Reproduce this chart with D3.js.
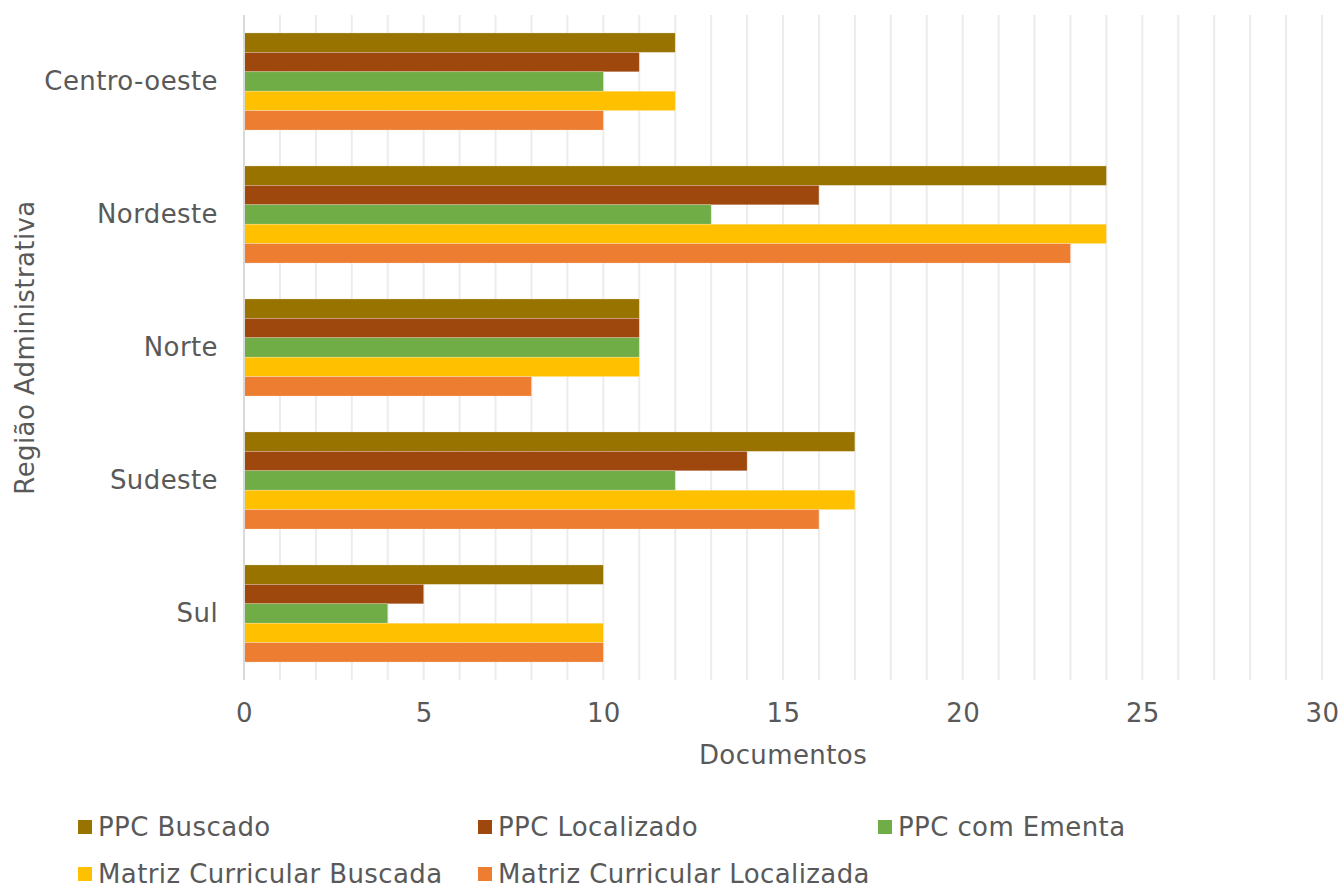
<!DOCTYPE html>
<html>
<head>
<meta charset="utf-8">
<script src="https://cdn.jsdelivr.net/npm/d3@7/dist/d3.min.js"></script>
<style>
  body { margin: 0; background: #fff; }
  text { font-family: "DejaVu Sans", Verdana, sans-serif; fill: #595959; letter-spacing: 0.4px; }
</style>
</head>
<body>
<svg id="chart" width="1342" height="886"></svg>
<script>
// data
var regions = ['Centro-oeste', 'Nordeste', 'Norte', 'Sudeste', 'Sul'];
var seriesNames = ['PPC Buscado', 'PPC Localizado', 'PPC com Ementa', 'Matriz Curricular Buscada', 'Matriz Curricular Localizada'];
var ppcBuscado = [12, 24, 11, 17, 10];
var ppcLocalizado = [11, 16, 11, 14, 5];
var ppcEmenta = [10, 13, 11, 12, 4];
var matrizBuscada = [12, 24, 11, 17, 10];
var matrizLocalizada = [10, 23, 8, 16, 10];
var xTicks = [0, 5, 10, 15, 20, 25, 30];

var colors = ['#997300', '#9e480e', '#70ad47', '#ffc000', '#ed7d31'];
var values = [ppcBuscado, ppcLocalizado, ppcEmenta, matrizBuscada, matrizLocalizada];

var svg = d3.select('#chart');
var plotLeft = 244, plotRight = 1322, plotTop = 15, plotBottom = 680;
var fontSize = '26px';

var x = d3.scaleLinear().domain([0, 30]).range([plotLeft, plotRight]);
var y = d3.scaleBand().domain(regions).range([plotTop, plotBottom]).paddingInner(0.27).paddingOuter(0.135);
var ySub = d3.scaleBand().domain(seriesNames).range([0, y.bandwidth()]);

// gridlines every unit
svg.append('g').selectAll('line')
    .data(d3.range(1, 31))
    .enter().append('line')
    .attr('x1', function(d) { return x(d); })
    .attr('x2', function(d) { return x(d); })
    .attr('y1', plotTop)
    .attr('y2', plotBottom)
    .attr('stroke', '#ececec')
    .attr('stroke-width', 2);

// bars
var groups = svg.append('g').selectAll('g')
    .data(regions)
    .enter().append('g')
    .attr('transform', function(d) { return 'translate(0,' + y(d) + ')'; });

groups.selectAll('rect')
    .data(function(d, i) {
        return seriesNames.map(function(s, j) { return { s: s, v: values[j][i], c: colors[j] }; });
    })
    .enter().append('rect')
    .attr('x', x(0))
    .attr('y', function(d) { return ySub(d.s); })
    .attr('width', function(d) { return x(d.v) - x(0); })
    .attr('height', ySub.bandwidth())
    .attr('fill', function(d) { return d.c; })
    .attr('stroke', '#fff')
    .attr('stroke-opacity', 0.4)
    .attr('stroke-width', 0.6);

// vertical axis line
svg.append('line')
    .attr('x1', x(0)).attr('x2', x(0))
    .attr('y1', plotTop).attr('y2', plotBottom)
    .attr('stroke', '#d9d9d9')
    .attr('stroke-width', 2);

// x axis
var xAxis = d3.axisBottom(x).tickValues(xTicks).tickSize(0).tickPadding(24);
svg.append('g')
    .attr('transform', 'translate(0,' + plotBottom + ')')
    .call(xAxis)
    .call(function(g) {
        g.select('.domain').remove();
        g.selectAll('text').style('font-size', fontSize).attr('fill', '#595959');
    });

// y axis labels
var yAxis = d3.axisLeft(y).tickSize(0).tickPadding(26);
svg.append('g')
    .attr('transform', 'translate(' + plotLeft + ',0)')
    .call(yAxis)
    .call(function(g) {
        g.select('.domain').remove();
        g.selectAll('text').style('font-size', fontSize).attr('fill', '#595959');
    });

// axis titles
svg.append('text')
    .attr('x', (plotLeft + plotRight) / 2)
    .attr('y', 764)
    .attr('text-anchor', 'middle')
    .style('font-size', fontSize)
    .text('Documentos');

svg.append('text')
    .attr('transform', 'translate(34,' + ((plotTop + plotBottom) / 2) + ') rotate(-90)')
    .attr('text-anchor', 'middle')
    .style('font-size', fontSize)
    .text('Região Administrativa');

// legend
var legend = svg.append('g').selectAll('g')
    .data(seriesNames)
    .enter().append('g')
    .attr('transform', function(d, i) {
        return 'translate(' + (78 + (i % 3) * 400) + ',' + (827 + Math.floor(i / 3) * 47) + ')';
    });

legend.append('rect')
    .attr('x', 0).attr('y', -7)
    .attr('width', 14).attr('height', 14)
    .attr('fill', function(d, i) { return colors[i]; });

legend.append('text')
    .attr('x', 20)
    .attr('dy', '0.35em')
    .style('font-size', fontSize)
    .text(function(d) { return d; });
</script>
</body>
</html>
